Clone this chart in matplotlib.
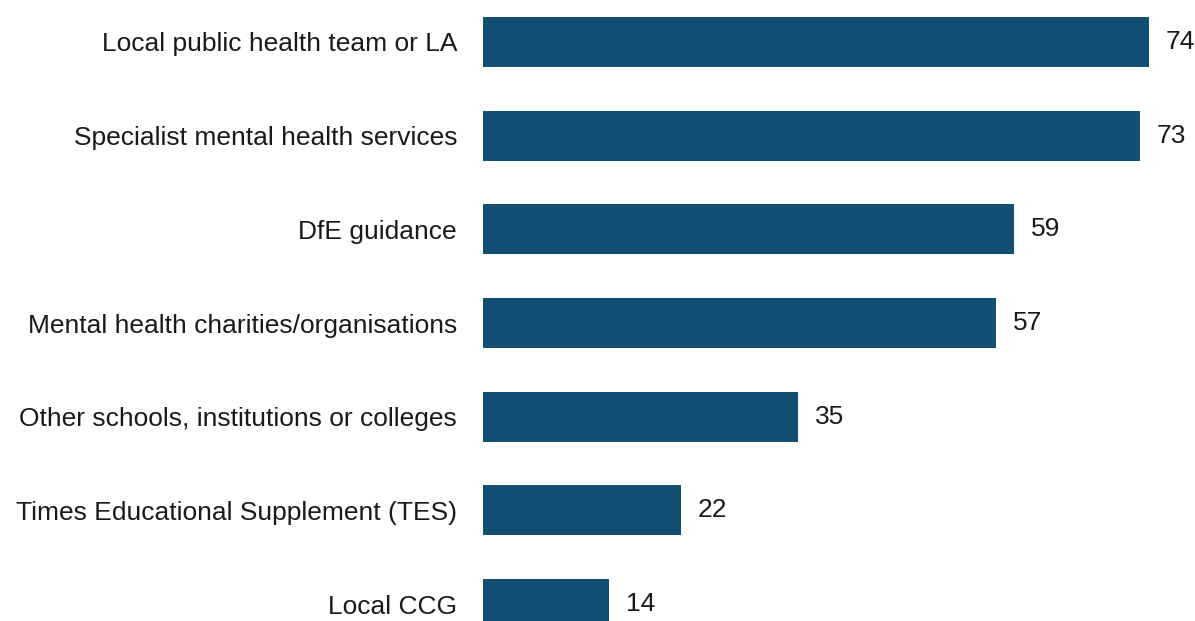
import matplotlib
matplotlib.use("Agg")
import matplotlib.pyplot as plt

categories = [
    "Local public health team or LA",
    "Specialist mental health services",
    "DfE guidance",
    "Mental health charities/organisations",
    "Other schools, institutions or colleges",
    "Times Educational Supplement (TES)",
    "Local CCG",
]
values = [74, 73, 59, 57, 35, 22, 14]

plt.rcParams["font.family"] = ["Liberation Sans", "DejaVu Sans"]

fig = plt.figure(figsize=(11.95, 6.21), dpi=100)
ax = fig.add_axes([483 / 1195, 0, (1195 - 483) / 1195, 1])

pos = list(range(len(categories)))
ax.barh(pos, values, height=0.534, color="#124F72")
ax.set_ylim(6.181, -0.448)
ax.set_xlim(0, (1195 - 483) / 9.0)

for p, v in zip(pos, values):
    ax.annotate(str(v), (v, p), xytext=(17, 0), textcoords="offset pixels",
                va="center", ha="left", fontsize=19, color="#1a1a1a")

ax.set_yticks(pos)
ax.set_yticklabels(categories, fontsize=19, color="#1a1a1a")
ax.tick_params(axis="y", length=0, pad=18.7)
ax.set_xticks([])
for s in ax.spines.values():
    s.set_visible(False)

fig.savefig("out.png", dpi=100)
